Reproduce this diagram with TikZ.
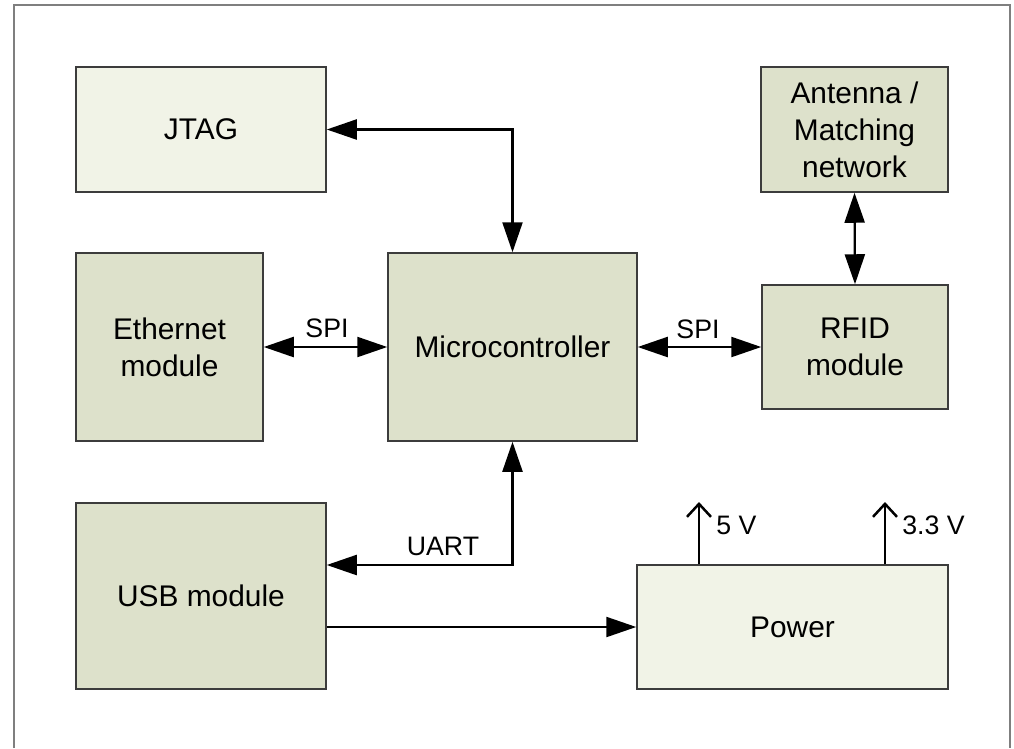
\documentclass[tikz,border=0pt]{standalone}
\usepackage{fontspec}
\setmainfont{Liberation Sans}
\usetikzlibrary{arrows.meta,positioning}
\definecolor{boxfill}{HTML}{DDE1CB}
\definecolor{gridfill}{HTML}{F1F3E7}
\definecolor{boxline}{HTML}{3C3C3C}
\definecolor{framegray}{HTML}{7F7F7F}
\tikzset{box/.style={draw=boxline,line width=0.3mm,fill=boxfill,align=center,inner sep=0pt,font=\fontsize{17}{21}\selectfont},gbox/.style={box,fill=gridfill},biarr/.style={{Triangle[length=6mm,width=4mm]}-{Triangle[length=6mm,width=4mm]},line width=0.45mm},arr/.style={-{Triangle[length=6mm,width=4mm]},line width=0.45mm},outarr/.style={-{Straight Barb[length=2.6mm,width=4.8mm]},line width=0.5mm},lbl/.style={font=\fontsize{15.2}{17}\selectfont,inner sep=0pt}}

\begin{document}
\begin{tikzpicture}[x=0.2mm,y=-0.2mm]
\useasboundingbox (0,0) rectangle (1014,748);
\draw[framegray,line width=0.4mm] (14,748)--(14,5)--(1010,5)--(1010,748);
\node[gbox,minimum width=50mm,minimum height=25mm] (jtag) at (201,129.5) {JTAG};\node[box,minimum width=37.4mm,minimum height=25mm] (ant) at (854.5,129.5) {Antenna /\\Matching\\network};
\node[box,minimum width=37.4mm,minimum height=37.6mm] (eth) at (169.5,347) {Ethernet\\module};\node[box,minimum width=49.8mm,minimum height=37.6mm] (mcu) at (512.5,347) {Microcontroller};\node[box,minimum width=37.2mm,minimum height=24.8mm] (rfid) at (855,347) {RFID\\module};
\node[box,minimum width=50mm,minimum height=37.2mm] (usb) at (201,596) {USB module};\node[gbox,minimum width=62.2mm,minimum height=24.8mm] (pwr) at (792.5,627) {Power};
\coordinate (uartc) at (512.5,565);\coordinate (v5) at (699,502);\coordinate (v33) at (885,502);
\draw[biarr] (jtag.east)--(jtag.east -| mcu.north)--(mcu.north);
\draw[biarr] (eth.east)--(mcu.west);\draw[biarr] (mcu.east)--(rfid.west);\draw[biarr] (ant.south)--(rfid.north);
\draw[biarr] (mcu.south)--(uartc)--(uartc -| usb.east);\draw[arr] (usb.east |- pwr.west)--(pwr.west);
\draw[outarr] (v5 |- pwr.north)--(v5);\draw[outarr] (v33 |- pwr.north)--(v33);
\node[lbl] (spil) at (327,328.5) {SPI};\node[lbl] (spir) at (698,329) {SPI};\node[lbl] (uart) at (443,546) {UART};
\node[lbl,anchor=west] (l5) at (716,525.5) {5 V};\node[lbl,anchor=west] (l33) at (902,525.5) {3.3 V};
\end{tikzpicture}
\end{document}
